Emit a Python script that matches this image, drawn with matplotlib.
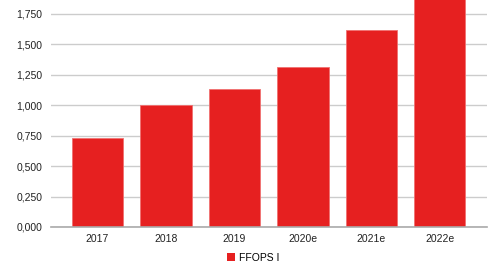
import matplotlib
matplotlib.use('Agg')
import matplotlib.pyplot as plt
from matplotlib.ticker import FuncFormatter
from matplotlib.patches import Patch

plt.rcParams['font.family'] = ['Liberation Sans', 'DejaVu Sans']

# 数据
years = ['2017', '2018', '2019', '2020e', '2021e', '2022e']
ffops = [0.731, 1.003, 1.134, 1.318, 1.620, 1.900]
series_name = 'FFOPS I'
yticks = [0, 0.25, 0.5, 0.75, 1.0, 1.25, 1.5, 1.75]

fig = plt.figure(figsize=(4.94, 2.69), dpi=100)
ax = fig.add_axes([51/494, 1 - 227/269, 436/494, 227/269])

x = range(len(years))
ax.bar(x, ffops, width=0.75, color='#e62020', edgecolor='#f07070', linewidth=0.6, zorder=2)

ax.set_xlim(-0.68, 5.69)
ax.set_ylim(0, 1.865)
ax.set_yticks(yticks)
ax.yaxis.set_major_formatter(FuncFormatter(lambda v, p: f'{v:.3f}'.replace('.', ',')))
ax.set_xticks(list(x))
ax.set_xticklabels(years)
ax.tick_params(axis='both', length=0, labelsize=7.5, colors='#222222')
ax.tick_params(axis='y', pad=6)
ax.tick_params(axis='x', pad=5)

ax.grid(axis='y', color='#cccccc', linewidth=1.0, zorder=0)
for s in ['top', 'right', 'left']:
    ax.spines[s].set_visible(False)
ax.spines['bottom'].set_color('#aaaaaa')
ax.spines['bottom'].set_linewidth(1.2)

fig.legend(handles=[Patch(facecolor='#e62020', label=series_name)],
           loc='center', bbox_to_anchor=(253/494, 1 - 258/269), frameon=False,
           fontsize=7.5, handlelength=0.8, handleheight=0.8, handletextpad=0.4)

fig.savefig('out.png', dpi=100)
